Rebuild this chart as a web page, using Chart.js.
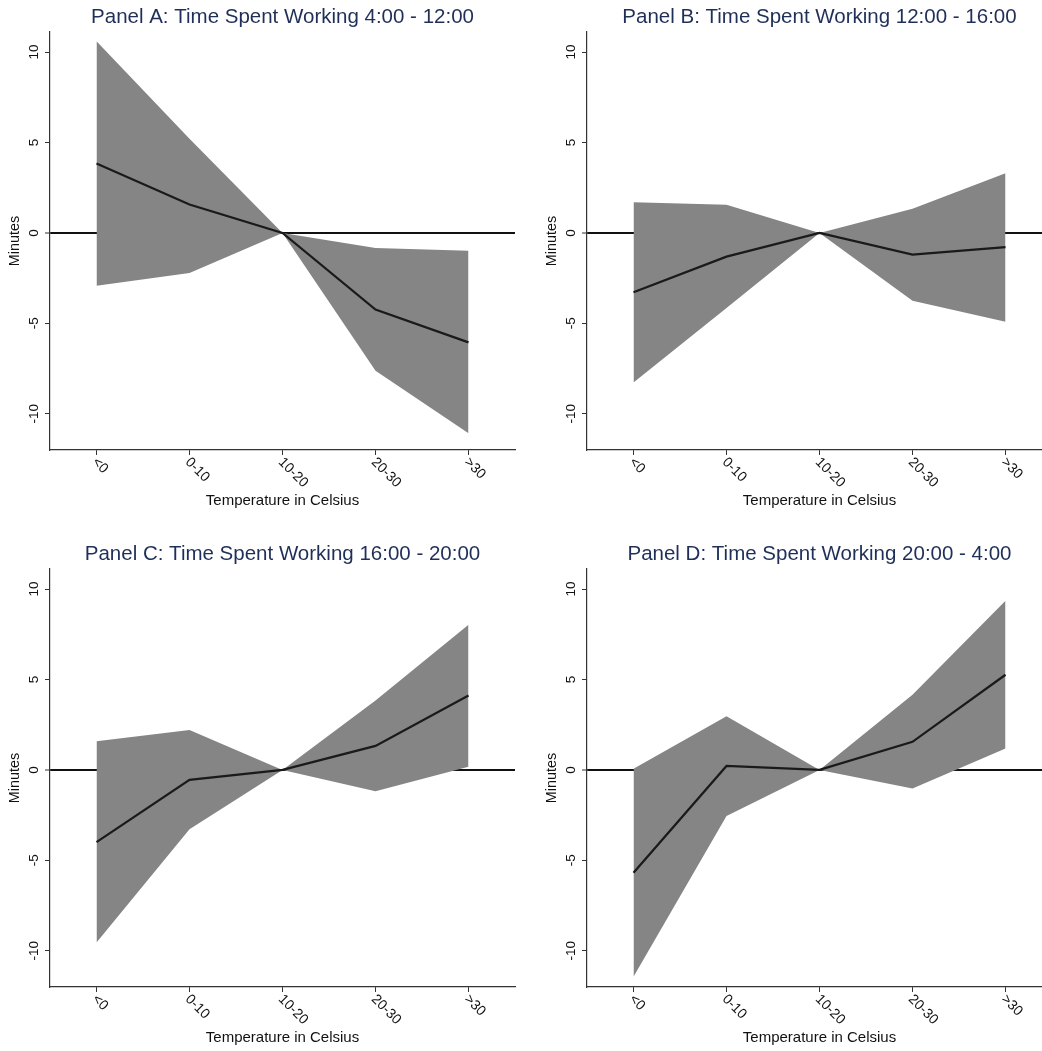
<!DOCTYPE html>
<html>
<head>
<meta charset="utf-8">
<script src="https://cdn.jsdelivr.net/npm/chart.js@4"></script>
<style>
  html, body { margin: 0; padding: 0; background: #fff; overflow: hidden; }
  body { width: 1042px; height: 1051px; position: relative; }
  .panel { position: absolute; width: 537px; height: 537px; }
</style>
</head>
<body>
<div class="panel" style="left:0;top:0"><canvas id="panelA"></canvas></div>
<div class="panel" style="left:537px;top:0"><canvas id="panelB"></canvas></div>
<div class="panel" style="left:0;top:537px"><canvas id="panelC"></canvas></div>
<div class="panel" style="left:537px;top:537px"><canvas id="panelD"></canvas></div>
<script>
const categories = ['<0', '0-10', '10-20', '20-30', '>30'];
const yTicks = [-10, -5, 0, 5, 10];

const titleA = 'Panel A: Time Spent Working 4:00 - 12:00';
const pointA = [3.84, 1.57, 0, -4.24, -6.05];
const upperA = [10.6, 5.2, 0, -0.83, -0.98];
const lowerA = [-2.92, -2.21, 0, -7.62, -11.07];

const titleB = 'Panel B: Time Spent Working 12:00 - 16:00';
const pointB = [-3.28, -1.31, 0, -1.2, -0.79];
const upperB = [1.7, 1.55, 0, 1.33, 3.3];
const lowerB = [-8.27, -4.15, 0, -3.75, -4.91];

const titleC = 'Panel C: Time Spent Working 16:00 - 20:00';
const pointC = [-3.99, -0.55, 0, 1.33, 4.11];
const upperC = [1.59, 2.21, 0, 3.84, 8.03];
const lowerC = [-9.54, -3.28, 0, -1.18, 0.18];

const titleD = 'Panel D: Time Spent Working 20:00 - 4:00';
const pointD = [-5.68, 0.22, 0, 1.55, 5.26];
const upperD = [0.07, 2.97, 0, 4.15, 9.35];
const lowerD = [-11.44, -2.55, 0, -1.03, 1.18];

const FONT = '"Liberation Sans", Arial, sans-serif';
const AXIS = '#333333';

// rotated x tick labels (Chart.js forces right alignment on rotated ticks)
const slantLabels = {
    id: 'slantLabels',
    afterDraw(chart) {
        const xs = chart.scales.x;
        const ctx = chart.ctx;
        ctx.save();
        ctx.font = '14px ' + FONT;
        ctx.fillStyle = '#111';
        ctx.textAlign = 'left';
        ctx.textBaseline = 'middle';
        xs.ticks.forEach((t, i) => {
            const x = xs.getPixelForTick(i);
            ctx.save();
            ctx.translate(x - 2, xs.top + 10);
            ctx.rotate(Math.PI / 4);
            ctx.fillText(categories[t.value], 0, 0);
            ctx.restore();
        });
        ctx.restore();
    }
};

function drawPanel(id, title, point, upper, lower) {
    new Chart(document.getElementById(id), {
        type: 'line',
        data: {
            labels: categories,
            datasets: [
                {
                    data: point,
                    borderColor: '#1a1a1a',
                    borderWidth: 2.2,
                    pointRadius: 0,
                    fill: false,
                    order: 0
                },
                {
                    data: upper,
                    borderWidth: 0,
                    borderColor: 'rgba(0,0,0,0)',
                    backgroundColor: '#858585',
                    pointRadius: 0,
                    fill: '+1',
                    order: 1
                },
                {
                    data: lower,
                    borderWidth: 0,
                    borderColor: 'rgba(0,0,0,0)',
                    pointRadius: 0,
                    fill: false,
                    order: 1
                }
            ]
        },
        options: {
            responsive: true,
            maintainAspectRatio: false,
            animation: false,
            events: [],
            layout: { padding: { top: 0, left: 0, right: 22, bottom: 27 } },
            plugins: {
                legend: { display: false },
                tooltip: { enabled: false },
                title: {
                    display: true,
                    text: title,
                    fullSize: false,
                    color: '#1f2f58',
                    font: { family: FONT, size: 20.5, weight: 'normal' },
                    padding: { top: 5, bottom: 2.5 }
                }
            },
            scales: {
                x: {
                    type: 'category',
                    offset: true,
                    afterFit: s => { s.height = 60; },
                    grid: {
                        display: true,
                        drawOnChartArea: false,
                        drawTicks: true,
                        tickLength: 5,
                        offset: false,
                        color: AXIS
                    },
                    border: { color: AXIS, width: 1.2 },
                    ticks: { display: false },
                    title: {
                        display: true,
                        text: 'Temperature in Celsius',
                        color: '#111',
                        font: { family: FONT, size: 15 },
                        padding: 0
                    }
                },
                y: {
                    min: -12,
                    max: 11.1,
                    z: 1,
                    afterFit: s => { s.width = 50; },
                    afterBuildTicks: s => { s.ticks = yTicks.map(v => ({ value: v })); },
                    grid: {
                        drawTicks: true,
                        tickLength: 5,
                        color: ctx => ctx.tick && ctx.tick.value === 0 ? '#111' : 'rgba(0,0,0,0)',
                        lineWidth: ctx => ctx.tick && ctx.tick.value === 0 ? 2 : 1,
                        tickColor: AXIS,
                        tickWidth: 1
                    },
                    border: { color: AXIS, width: 1.2 },
                    ticks: {
                        minRotation: 90,
                        maxRotation: 90,
                        crossAlign: 'center',
                        padding: 1,
                        color: '#111',
                        font: { family: FONT, size: 13.5 }
                    },
                    title: {
                        display: true,
                        text: 'Minutes',
                        color: '#111',
                        font: { family: FONT, size: 14.4 },
                        padding: { top: 6.4, bottom: 0 }
                    }
                }
            }
        },
        plugins: [slantLabels]
    });
}

drawPanel('panelA', titleA, pointA, upperA, lowerA);
drawPanel('panelB', titleB, pointB, upperB, lowerB);
drawPanel('panelC', titleC, pointC, upperC, lowerC);
drawPanel('panelD', titleD, pointD, upperD, lowerD);
</script>
</body>
</html>
